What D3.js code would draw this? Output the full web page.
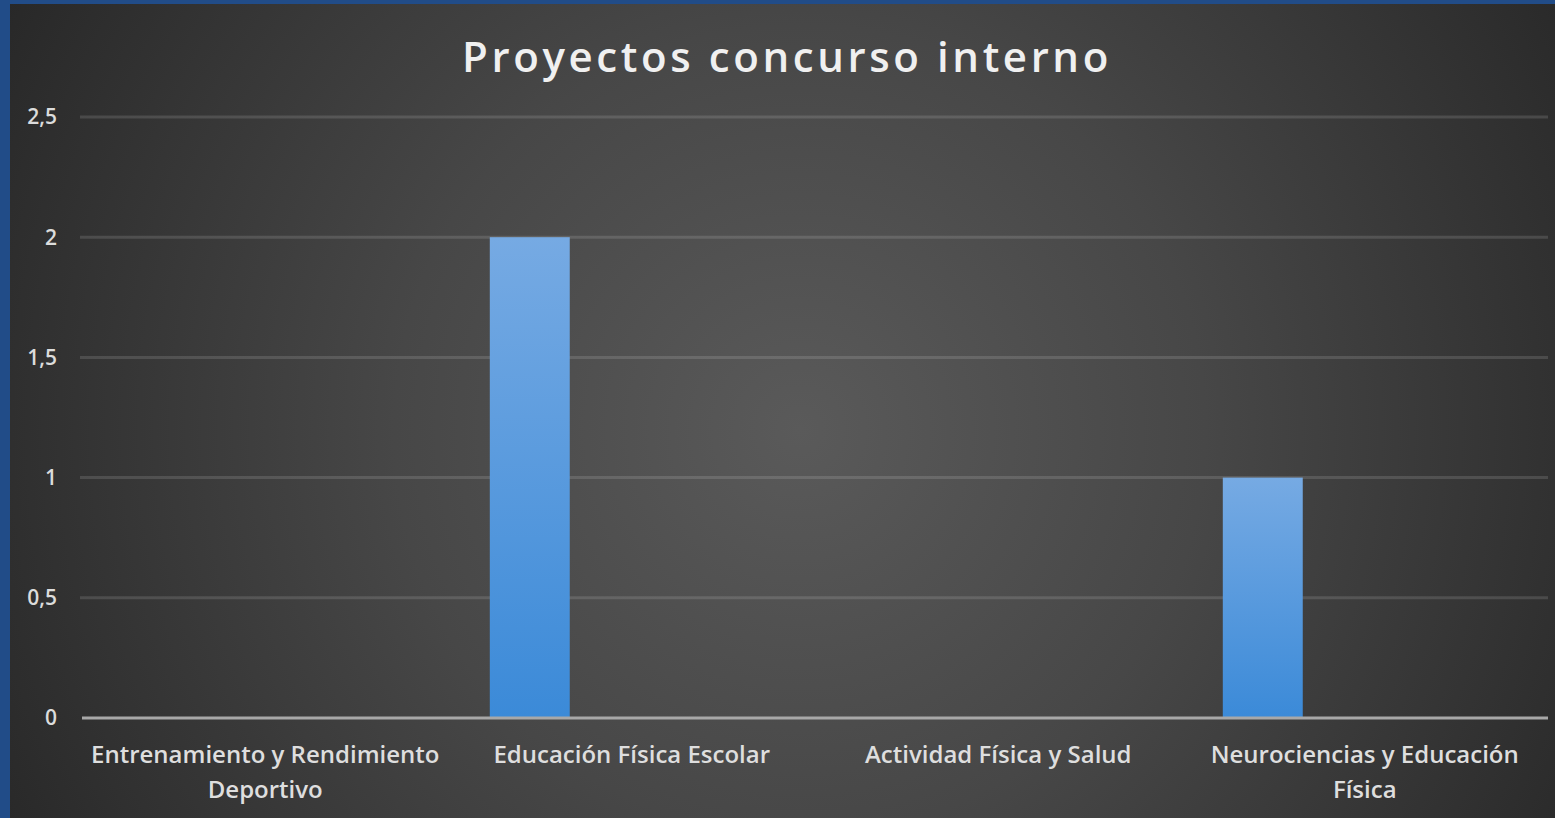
<!doctype html>
<html>
<head>
<meta charset="UTF-8">
<script src="https://d3js.org/d3.v7.min.js"></script>
<style>
  html, body { margin: 0; padding: 0; background: #2c2c2c; overflow: hidden; }
  svg { display: block; }
</style>
</head>
<body>
<script>
// data
const title = "Proyectos concurso interno";
const categories = [
  ["Entrenamiento y Rendimiento", "Deportivo"],
  ["Educación Física Escolar"],
  ["Actividad Física y Salud"],
  ["Neurociencias y Educación", "Física"]
];
const values = [0, 2, 0, 1];
const yTicks = [0, 0.5, 1, 1.5, 2, 2.5];

const W = 1555, H = 818;
const margin = { top: 117, right: 7, bottom: 100, left: 82 };

const svg = d3.select("body").append("svg")
  .attr("width", W)
  .attr("height", H);

const defs = svg.append("defs");

const bg = defs.append("radialGradient")
  .attr("id", "bg")
  .attr("gradientUnits", "userSpaceOnUse")
  .attr("cx", 800).attr("cy", 430).attr("r", 900);
bg.append("stop").attr("offset", "0%").attr("stop-color", "#5a5a5a");
bg.append("stop").attr("offset", "45%").attr("stop-color", "#474747");
bg.append("stop").attr("offset", "100%").attr("stop-color", "#282828");

const barGrad = defs.append("linearGradient")
  .attr("id", "bar")
  .attr("x1", 0).attr("y1", 0).attr("x2", 0).attr("y2", 1);
barGrad.append("stop").attr("offset", "0%").attr("stop-color", "#76aae3");
barGrad.append("stop").attr("offset", "100%").attr("stop-color", "#3b8ad8");

// background + blue frame
svg.append("rect").attr("width", W).attr("height", H).attr("fill", "url(#bg)");
svg.append("rect").attr("x", 0).attr("y", 0).attr("width", 10).attr("height", H).attr("fill", "#214c88");
svg.append("rect").attr("x", 0).attr("y", 0).attr("width", W).attr("height", 4).attr("fill", "#214c88");

const x = d3.scaleBand()
  .domain(d3.range(categories.length))
  .range([margin.left, W - margin.right])
  .padding(0);

// Excel-style slots inside each category; the series sits in the first slot
const slot = d3.scaleBand()
  .domain(d3.range(3))
  .range([0, x.bandwidth()])
  .paddingInner(0.216)
  .paddingOuter(0.405);

const y = d3.scaleLinear()
  .domain([0, 2.5])
  .range([H - margin.bottom, margin.top]);

const fmt = v => d3.format("")(v).replace(".", ",");

// gridlines
svg.append("g")
  .selectAll("line")
  .data(yTicks.filter(d => d > 0))
  .join("line")
    .attr("x1", margin.left - 2)
    .attr("x2", W - margin.right)
    .attr("y1", d => y(d))
    .attr("y2", d => y(d))
    .attr("stroke", "#ffffff")
    .attr("stroke-opacity", 0.13)
    .attr("stroke-width", 3);

// y labels
svg.append("g")
  .selectAll("text")
  .data(yTicks)
  .join("text")
    .attr("x", 57)
    .attr("y", d => y(d))
    .attr("dy", "0.35em")
    .attr("text-anchor", "end")
    .attr("fill", "#dcdcdc")
    .attr("font-family", "Open Sans, sans-serif")
    .attr("font-weight", 600)
    .attr("font-size", 21)
    .text(fmt);

// bars
svg.append("g")
  .selectAll("rect")
  .data(values)
  .join("rect")
    .attr("x", (d, i) => x(i) + slot(0))
    .attr("width", slot.bandwidth())
    .attr("y", d => y(d))
    .attr("height", d => y(0) - y(d))
    .attr("fill", "url(#bar)")
    .attr("display", d => d > 0 ? null : "none");

// baseline
svg.append("line")
  .attr("x1", margin.left)
  .attr("x2", W - margin.right)
  .attr("y1", y(0))
  .attr("y2", y(0))
  .attr("stroke", "#a8a8a8")
  .attr("stroke-width", 3);

// category labels
const cat = svg.append("g")
  .selectAll("text")
  .data(categories)
  .join("text")
    .attr("x", (d, i) => x(i) + x.bandwidth() / 2)
    .attr("y", y(0) + 45)
    .attr("text-anchor", "middle")
    .attr("fill", "#dedede")
    .attr("font-family", "Open Sans, sans-serif")
    .attr("font-weight", 600)
    .attr("font-size", 24)
    .attr("letter-spacing", 0);

cat.selectAll("tspan")
  .data(d => d)
  .join("tspan")
    .attr("x", function() { return this.parentNode.getAttribute("x"); })
    .attr("dy", (d, i) => i === 0 ? 0 : 35)
    .text(d => d);

// title
svg.append("text")
  .attr("x", 787)
  .attr("y", 72)
  .attr("text-anchor", "middle")
  .attr("fill", "#f0f0f0")
  .attr("font-family", "Open Sans, sans-serif")
  .attr("font-weight", 600)
  .attr("font-size", 42)
  .attr("letter-spacing", 3.6)
  .text(title);
</script>
</body>
</html>
